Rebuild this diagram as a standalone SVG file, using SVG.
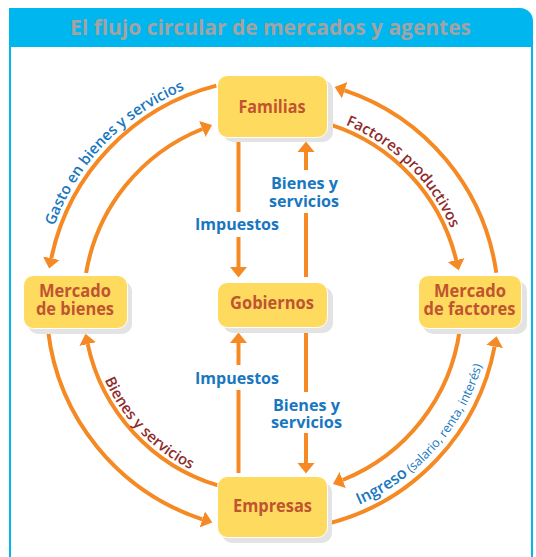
<svg xmlns="http://www.w3.org/2000/svg" width="536" height="557" viewBox="0 0 536 557">
<defs>
<style>
.frame{fill:none;stroke:#00b6ee;stroke-width:2}
.title{font-family:"Open Sans","Liberation Sans",sans-serif;font-weight:bold;font-size:22px;fill:#a3a3a3}
.box{fill:#fedb5f;stroke:#ffffff;stroke-width:1}
.shadow{fill:#e3e3e3}
.ntext{font-family:"Open Sans","Liberation Sans",sans-serif;font-weight:bold;font-size:18px;fill:#bf5530;text-anchor:middle}
.blue{font-family:"Open Sans","Liberation Sans",sans-serif;font-weight:bold;font-size:16px;fill:#1877c0;text-anchor:middle}
.ctext{font-family:"Open Sans","Liberation Sans",sans-serif;font-weight:600;font-size:15px;text-anchor:middle}
.flow{fill:none;stroke:#f58a25;stroke-width:4}
</style>
<marker id="ah" markerUnits="userSpaceOnUse" viewBox="0 -9 11 18" refX="0" refY="0" markerWidth="11" markerHeight="18" orient="auto">
<path d="M0,-8.5 L10.5,0 L0,8.5 z" fill="#f58a25"/>
</marker>
<path id="tpGasto" d="M40.6,309.4 A232,232 0 0 1 267.6,72.6"/>
<path id="tpFact" d="M270.8,110.5 A194,194 0 0 1 466.5,302.8"/>
<path id="tpByS" d="M88.5,301 A184,184 0 0 0 269,488.5"/>
<path id="tpIng" d="M286.2,522.1 A218,218 0 0 0 490.1,290.8"/>
</defs>

<g id="frame">
<line class="frame" x1="10" y1="40" x2="10" y2="557"/>
<line class="frame" x1="532" y1="40" x2="532" y2="557"/>
<path d="M9,8 H520 A13,13 0 0 1 533,21 V47 H9 Z" fill="#00b6ee"/>
<text class="title" x="270.5" y="35" text-anchor="middle" textLength="401" lengthAdjust="spacingAndGlyphs">El flujo circular de mercados y agentes</text>
</g>

<g id="connectors">
<path class="flow" d="M216.3,85.6 A226,226 0 0 0 51.3,258.3" marker-end="url(#ah)"/>
<path class="flow" d="M496.3,272.8 A226,226 0 0 0 344.6,90.3" marker-end="url(#ah)"/>
<path class="flow" d="M48,330.1 A226,226 0 0 0 202.3,519.3" marker-end="url(#ah)"/>
<path class="flow" d="M329.1,523.3 A226,226 0 0 0 494.6,346.5" marker-end="url(#ah)"/>
<path class="flow" d="M86.1,273 A189,189 0 0 1 202.3,129" marker-end="url(#ah)"/>
<path class="flow" d="M330.3,124.6 A189,189 0 0 1 456.2,260.1" marker-end="url(#ah)"/>
<path class="flow" d="M459.7,330.1 A189,189 0 0 1 342.7,480" marker-end="url(#ah)"/>
<path class="flow" d="M217.9,485.4 A189,189 0 0 1 87.7,344.1" marker-end="url(#ah)"/>

<line class="flow" x1="238.5" y1="140" x2="238.5" y2="212"/>
<line class="flow" x1="238.5" y1="237" x2="238.5" y2="267" marker-end="url(#ah)"/>
<line class="flow" x1="306" y1="277" x2="306" y2="213"/>
<line class="flow" x1="306" y1="170" x2="306" y2="152" marker-end="url(#ah)"/>
<line class="flow" x1="306" y1="332" x2="306" y2="392"/>
<line class="flow" x1="306" y1="433" x2="306" y2="463" marker-end="url(#ah)"/>
<line class="flow" x1="238.5" y1="473" x2="238.5" y2="390"/>
<line class="flow" x1="238.5" y1="365" x2="238.5" y2="343" marker-end="url(#ah)"/>

<text class="blue" x="237" y="230" textLength="84" lengthAdjust="spacingAndGlyphs">Impuestos</text>
<text class="blue" x="304.5" y="189" textLength="67" lengthAdjust="spacingAndGlyphs">Bienes y</text>
<text class="blue" x="304" y="207" textLength="70" lengthAdjust="spacingAndGlyphs">servicios</text>
<text class="blue" x="237" y="384" textLength="84" lengthAdjust="spacingAndGlyphs">Impuestos</text>
<text class="blue" x="306.5" y="411" textLength="67" lengthAdjust="spacingAndGlyphs">Bienes y</text>
<text class="blue" x="306.5" y="428" textLength="71" lengthAdjust="spacingAndGlyphs">servicios</text>

<text class="ctext" fill="#1877c0"><textPath href="#tpGasto" startOffset="50%">Gasto en bienes y servicios</textPath></text>
<text class="ctext" fill="#8f2b2b"><textPath href="#tpFact" startOffset="50%">Factores productivos</textPath></text>
<text class="ctext" fill="#8f2b2b" font-size="16px"><textPath href="#tpByS" startOffset="50%">Bienes y servicios</textPath></text>
<text class="ctext" fill="#1877c0"><textPath href="#tpIng" startOffset="50%"><tspan font-size="16px">Ingreso</tspan><tspan font-size="12.5px" font-weight="normal"> (salario, renta, interés)</tspan></textPath></text>
</g>

<g id="familias">
<rect class="shadow" x="223" y="80" width="110" height="62" rx="10"/>
<rect class="box" x="217.5" y="75.5" width="110" height="62" rx="10"/>
<text class="ntext" x="272" y="113" textLength="67" lengthAdjust="spacingAndGlyphs">Familias</text>
</g>

<g id="mercado-bienes">
<rect class="shadow" x="28" y="281" width="104" height="53" rx="10"/>
<rect class="box" x="23.5" y="275.5" width="104" height="53" rx="10"/>
<text class="ntext" x="75" y="297" textLength="72" lengthAdjust="spacingAndGlyphs">Mercado</text>
<text class="ntext" x="75" y="315" textLength="78" lengthAdjust="spacingAndGlyphs">de bienes</text>
</g>

<g id="gobiernos">
<rect class="shadow" x="223" y="287" width="110" height="46" rx="10"/>
<rect class="box" x="217.5" y="282.5" width="110" height="45" rx="10"/>
<text class="ntext" x="272" y="309" textLength="84" lengthAdjust="spacingAndGlyphs">Gobiernos</text>
</g>

<g id="mercado-factores">
<rect class="shadow" x="423" y="281" width="104" height="53" rx="10"/>
<rect class="box" x="418.5" y="275.5" width="103" height="53" rx="10"/>
<text class="ntext" x="470" y="297" textLength="72" lengthAdjust="spacingAndGlyphs">Mercado</text>
<text class="ntext" x="469.5" y="315" textLength="92" lengthAdjust="spacingAndGlyphs">de factores</text>
</g>

<g id="empresas">
<rect class="shadow" x="222" y="482" width="110" height="61" rx="10"/>
<rect class="box" x="217.5" y="476.5" width="110" height="61" rx="10"/>
<text class="ntext" x="272.5" y="512" textLength="79" lengthAdjust="spacingAndGlyphs">Empresas</text>
</g>
</svg>
